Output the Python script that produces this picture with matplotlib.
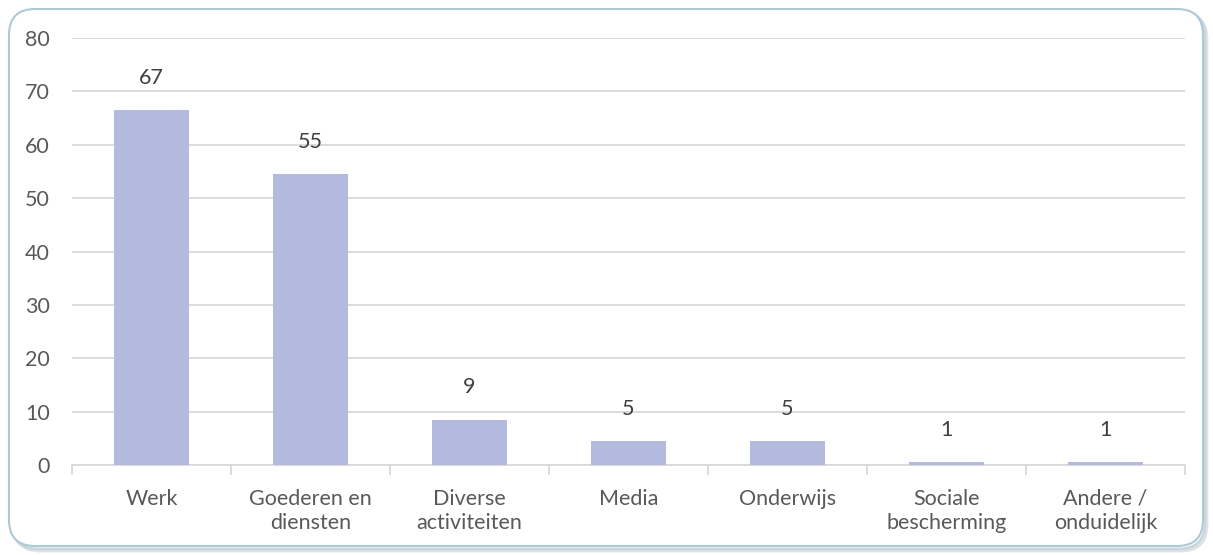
import matplotlib.pyplot as plt
from matplotlib.patches import FancyBboxPatch
import numpy as np

categories = ["Werk", "Goederen en\ndiensten", "Diverse\nactiviteiten", "Media",
              "Onderwijs", "Sociale\nbescherming", "Andere /\nonduidelijk"]
values = [66.5, 54.5, 8.5, 4.5, 4.5, 0.5, 0.5]
labels = ["67", "55", "9", "5", "5", "1", "1"]
yticks = [0, 10, 20, 30, 40, 50, 60, 70, 80]

plt.rcParams['font.family'] = ['Lato', 'DejaVu Sans']
text_col = '#595959'
grid_col = '#d9d9d9'
bar_col = '#b3bade'
fs = 15.5

fig = plt.figure(figsize=(12.13, 5.55), dpi=100)

# rounded frame with soft shadow
for off, col in [(4, '#dde4e8'), (2, '#cad6dd')]:
    fig.patches.append(FancyBboxPatch((10 + off, 8 - off), 1193, 538,
                                      boxstyle="round,pad=0,rounding_size=26",
                                      transform=None, facecolor='none',
                                      edgecolor=col, linewidth=2, zorder=0))
fig.patches.append(FancyBboxPatch((9, 9), 1194, 537,
                                  boxstyle="round,pad=0,rounding_size=26",
                                  transform=None, facecolor='white',
                                  edgecolor='#adc9d5', linewidth=1.5, zorder=1))

ax = fig.add_axes([72 / 1213, 1 - 465 / 555, (1185 - 72) / 1213, (465 - 38) / 555])
ax.set_facecolor('none')
ax.set_zorder(2)

x = np.arange(len(categories))
bars = ax.bar(x, values, width=0.47, color=bar_col, zorder=3)
for b, lab in zip(bars, labels):
    ax.annotate(lab, (b.get_x() + b.get_width() / 2, b.get_height()),
                xytext=(0, 16), textcoords='offset points', ha='center', va='bottom',
                fontsize=fs, color='#404040')

ax.set_xlim(-0.5, len(categories) - 0.5)
ax.set_ylim(0, 80)
ax.set_yticks(yticks)
ax.yaxis.grid(True, color=grid_col, linewidth=1.3, zorder=0)
ax.set_axisbelow(True)

ax.set_xticks(x)
ax.set_xticklabels(categories, fontsize=fs, color=text_col, linespacing=1.3)
ax.set_xticks(np.arange(-0.5, len(categories)), minor=True)
ax.tick_params(axis='x', which='major', length=0, pad=17)
ax.tick_params(axis='x', which='minor', length=7, color=grid_col, width=1.3)
ax.tick_params(axis='y', length=0, pad=16, labelsize=fs, labelcolor=text_col)

for s in ['top', 'right', 'left']:
    ax.spines[s].set_visible(False)
ax.spines['bottom'].set_color(grid_col)
ax.spines['bottom'].set_linewidth(1.3)

fig.savefig("out.png", dpi=100)
